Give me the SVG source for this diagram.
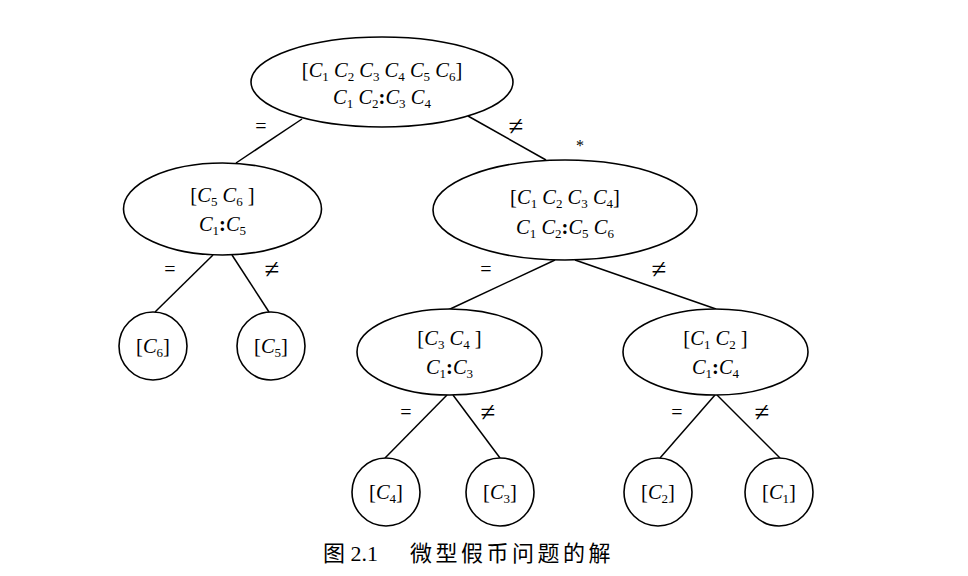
<svg xmlns="http://www.w3.org/2000/svg" width="968" height="576" viewBox="0 0 968 576">
<style>
.n{fill:#fff;stroke:#000;stroke-width:1.6}
.e line{stroke:#000;stroke-width:1.5}
text{font-family:"Liberation Serif","Times New Roman",serif;font-size:20.5px;fill:#000}
.t{text-anchor:middle}
.i{font-style:italic}
.s{font-size:13px}
.lb{font-size:20px;text-anchor:middle}
.ne{font-size:27px;text-anchor:middle}
.cap{font-family:"Liberation Serif","Noto Sans CJK SC",serif;font-size:22px}
</style>
<rect width="968" height="576" fill="#fff"/>
<g id="edges" class="e">
<line x1="302" y1="119" x2="236" y2="163"/>
<line x1="468" y1="116" x2="546" y2="160"/>
<line x1="213" y1="255" x2="155" y2="312"/>
<line x1="232" y1="255" x2="269" y2="312"/>
<line x1="555" y1="260" x2="448" y2="310"/>
<line x1="575" y1="260" x2="716" y2="309"/>
<line x1="447" y1="395" x2="385" y2="458"/>
<line x1="453" y1="395" x2="500" y2="458"/>
<line x1="715" y1="395" x2="660" y2="458"/>
<line x1="717" y1="395" x2="780" y2="458"/>
</g>
<g id="labels">
<text class="lb" x="261" y="133">=</text>
<text class="ne" x="516" y="135">≠</text>
<text class="lb" x="580" y="151" style="font-size:16px">*</text>
<text class="lb" x="170" y="276">=</text>
<text class="ne" x="272" y="278">≠</text>
<text class="lb" x="486" y="276">=</text>
<text class="ne" x="659" y="278">≠</text>
<text class="lb" x="406" y="419">=</text>
<text class="ne" x="488" y="421">≠</text>
<text class="lb" x="677" y="419">=</text>
<text class="ne" x="762" y="421">≠</text>
</g>
<g id="root">
<ellipse class="n" cx="382" cy="82" rx="131" ry="45"/>
<text class="t" x="382" y="77">[<tspan class="i">C</tspan><tspan class="s" dy="4">1</tspan><tspan dy="-4"> </tspan><tspan class="i">C</tspan><tspan class="s" dy="4">2</tspan><tspan dy="-4"> </tspan><tspan class="i">C</tspan><tspan class="s" dy="4">3</tspan><tspan dy="-4"> </tspan><tspan class="i">C</tspan><tspan class="s" dy="4">4</tspan><tspan dy="-4"> </tspan><tspan class="i">C</tspan><tspan class="s" dy="4">5</tspan><tspan dy="-4"> </tspan><tspan class="i">C</tspan><tspan class="s" dy="4">6</tspan><tspan dy="-4">]</tspan></text>
<text class="t" x="382" y="104"><tspan class="i">C</tspan><tspan class="s" dy="4">1</tspan><tspan dy="-4"> </tspan><tspan class="i">C</tspan><tspan class="s" dy="4">2</tspan><tspan dy="-4" font-weight="bold">:</tspan><tspan class="i">C</tspan><tspan class="s" dy="4">3</tspan><tspan dy="-4"> </tspan><tspan class="i">C</tspan><tspan class="s" dy="4">4</tspan></text>
</g>
<g id="n56">
<ellipse class="n" cx="222.5" cy="209" rx="99" ry="46"/>
<text class="t" x="222.5" y="202">[<tspan class="i">C</tspan><tspan class="s" dy="4">5</tspan><tspan dy="-4"> </tspan><tspan class="i">C</tspan><tspan class="s" dy="4">6</tspan><tspan dy="-4"> ]</tspan></text>
<text class="t" x="222.5" y="231"><tspan class="i">C</tspan><tspan class="s" dy="4">1</tspan><tspan dy="-4" font-weight="bold">:</tspan><tspan class="i">C</tspan><tspan class="s" dy="4">5</tspan></text>
</g>
<g id="n1234">
<ellipse class="n" cx="565" cy="210" rx="132" ry="50"/>
<text class="t" x="565" y="204">[<tspan class="i">C</tspan><tspan class="s" dy="4">1</tspan><tspan dy="-4"> </tspan><tspan class="i">C</tspan><tspan class="s" dy="4">2</tspan><tspan dy="-4"> </tspan><tspan class="i">C</tspan><tspan class="s" dy="4">3</tspan><tspan dy="-4"> </tspan><tspan class="i">C</tspan><tspan class="s" dy="4">4</tspan><tspan dy="-4">]</tspan></text>
<text class="t" x="565" y="234"><tspan class="i">C</tspan><tspan class="s" dy="4">1</tspan><tspan dy="-4"> </tspan><tspan class="i">C</tspan><tspan class="s" dy="4">2</tspan><tspan dy="-4" font-weight="bold">:</tspan><tspan class="i">C</tspan><tspan class="s" dy="4">5</tspan><tspan dy="-4"> </tspan><tspan class="i">C</tspan><tspan class="s" dy="4">6</tspan></text>
</g>
<g id="n34">
<ellipse class="n" cx="449.5" cy="352" rx="92.5" ry="43"/>
<text class="t" x="449.5" y="345">[<tspan class="i">C</tspan><tspan class="s" dy="4">3</tspan><tspan dy="-4"> </tspan><tspan class="i">C</tspan><tspan class="s" dy="4">4</tspan><tspan dy="-4"> ]</tspan></text>
<text class="t" x="449.5" y="374"><tspan class="i">C</tspan><tspan class="s" dy="4">1</tspan><tspan dy="-4" font-weight="bold">:</tspan><tspan class="i">C</tspan><tspan class="s" dy="4">3</tspan></text>
</g>
<g id="n12">
<ellipse class="n" cx="715.5" cy="352" rx="92.5" ry="43"/>
<text class="t" x="715.5" y="345">[<tspan class="i">C</tspan><tspan class="s" dy="4">1</tspan><tspan dy="-4"> </tspan><tspan class="i">C</tspan><tspan class="s" dy="4">2</tspan><tspan dy="-4"> ]</tspan></text>
<text class="t" x="715.5" y="374"><tspan class="i">C</tspan><tspan class="s" dy="4">1</tspan><tspan dy="-4" font-weight="bold">:</tspan><tspan class="i">C</tspan><tspan class="s" dy="4">4</tspan></text>
</g>
<g id="c6">
<circle class="n" cx="153" cy="346" r="34"/>
<text class="t" x="153" y="353">[<tspan class="i">C</tspan><tspan class="s" dy="4">6</tspan><tspan dy="-4">]</tspan></text>
</g>
<g id="c5">
<circle class="n" cx="271" cy="346" r="34"/>
<text class="t" x="271" y="353">[<tspan class="i">C</tspan><tspan class="s" dy="4">5</tspan><tspan dy="-4">]</tspan></text>
</g>
<g id="c4">
<circle class="n" cx="386" cy="492" r="34"/>
<text class="t" x="386" y="499">[<tspan class="i">C</tspan><tspan class="s" dy="4">4</tspan><tspan dy="-4">]</tspan></text>
</g>
<g id="c3">
<circle class="n" cx="500" cy="492" r="34"/>
<text class="t" x="500" y="499">[<tspan class="i">C</tspan><tspan class="s" dy="4">3</tspan><tspan dy="-4">]</tspan></text>
</g>
<g id="c2">
<circle class="n" cx="658" cy="492" r="34"/>
<text class="t" x="658" y="499">[<tspan class="i">C</tspan><tspan class="s" dy="4">2</tspan><tspan dy="-4">]</tspan></text>
</g>
<g id="c1">
<circle class="n" cx="779" cy="492" r="34"/>
<text class="t" x="779" y="499">[<tspan class="i">C</tspan><tspan class="s" dy="4">1</tspan><tspan dy="-4">]</tspan></text>
</g>
<g id="caption">
<text class="cap" x="323" y="561">图 2.1</text>
<text class="cap" x="410" y="561" style="letter-spacing:3.5px">微型假币问题的解</text>
</g>
</svg>
